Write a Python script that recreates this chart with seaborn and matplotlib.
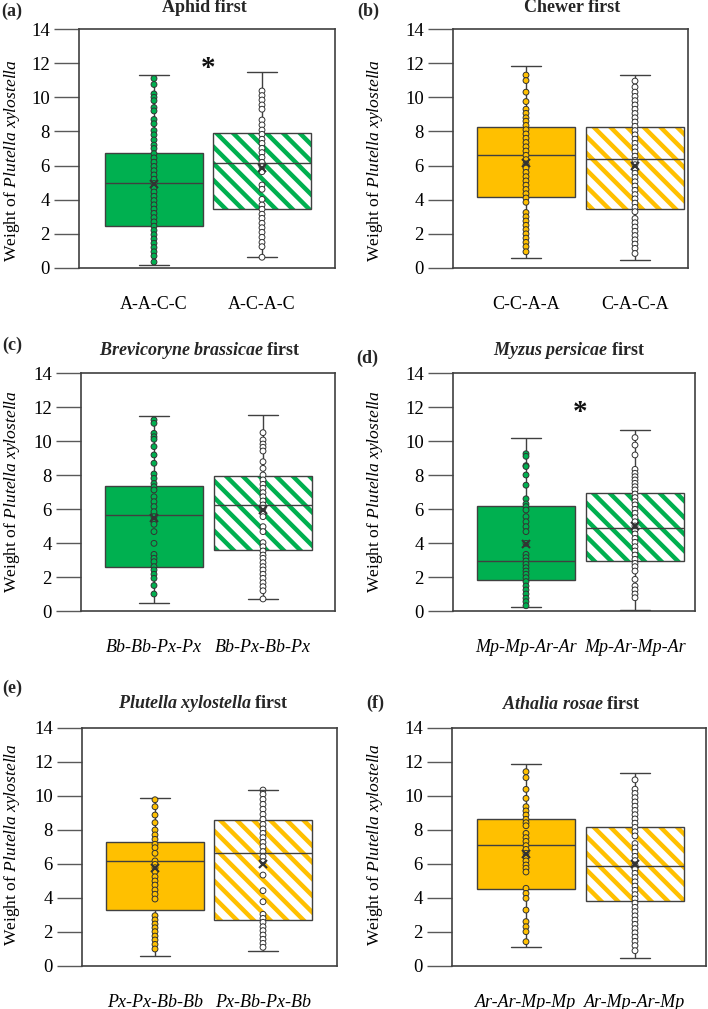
import numpy as np
import pandas as pd
import matplotlib
matplotlib.use("Agg")
import matplotlib.pyplot as plt
import seaborn as sns
from matplotlib.patches import PathPatch

sns.set_theme(style="white")
plt.rcParams["font.family"] = ["Liberation Serif", "DejaVu Serif"]
plt.rcParams["mathtext.fontset"] = "custom"
plt.rcParams["mathtext.rm"] = "Liberation Serif"
plt.rcParams["mathtext.it"] = "Liberation Serif:italic"
plt.rcParams["mathtext.bf"] = "Liberation Serif:bold"
plt.rcParams["mathtext.bfit"] = "Liberation Serif:italic:bold"
plt.rcParams["hatch.linewidth"] = 3.2

GREEN = "#00B050"
GOLD = "#FFC000"

# ---------------- data ----------------
panel_letters = ["(a)", "(b)", "(c)", "(d)", "(e)", "(f)"]
panel_titles = [
    "Aphid first",
    "Chewer first",
    r"$\mathbfit{Brevicoryne\ brassicae}$ first",
    r"$\mathbfit{Myzus\ persicae}$ first",
    r"$\mathbfit{Plutella\ xylostella}$ first",
    r"$\mathbfit{Athalia\ rosae}$ first",
]
categories = [
    ["A-A-C-C", "A-C-A-C"],
    ["C-C-A-A", "C-A-C-A"],
    ["Bb-Bb-Px-Px", "Bb-Px-Bb-Px"],
    ["Mp-Mp-Ar-Ar", "Mp-Ar-Mp-Ar"],
    ["Px-Px-Bb-Bb", "Px-Bb-Px-Bb"],
    ["Ar-Ar-Mp-Mp", "Ar-Mp-Ar-Mp"],
]
italic_ticks = [False, False, True, True, True, True]
significant = [True, False, False, True, False, False]

# five-number summaries [min, Q1, median, Q3, max]
stats_a1 = [0.16, 2.44, 4.98, 6.76, 11.33]
stats_a2 = [0.63, 3.48, 6.13, 7.89, 11.48]
stats_b1 = [0.60, 4.16, 6.60, 8.24, 11.82]
stats_b2 = [0.47, 3.48, 6.41, 8.24, 11.31]
stats_c1 = [0.49, 2.60, 5.62, 7.38, 11.45]
stats_c2 = [0.69, 3.56, 6.25, 7.97, 11.55]
stats_d1 = [0.25, 1.82, 2.96, 6.17, 10.18]
stats_d2 = [0.06, 2.96, 4.86, 6.95, 10.67]
stats_e1 = [0.61, 3.31, 6.18, 7.29, 9.86]
stats_e2 = [0.90, 2.73, 6.67, 8.57, 10.37]
stats_f1 = [1.12, 4.51, 7.14, 8.63, 11.88]
stats_f2 = [0.47, 3.84, 5.90, 8.18, 11.37]

means_a = [4.92, 5.86]
means_b = [6.15, 5.96]
means_c = [5.50, 5.93]
means_d = [3.97, 5.00]
means_e = [5.78, 6.02]
means_f = [6.60, 6.02]

pts_a1 = [11.1, 10.75, 10.2, 10.0, 9.8, 9.4, 9.2, 8.7, 8.45, 8.05, 7.8, 7.5, 7.2, 7.0, 6.7,
          6.45, 6.2, 5.95, 5.7, 5.45, 5.2, 4.95, 4.7, 4.45, 4.2, 3.95, 3.7, 3.45, 3.2, 2.95,
          2.7, 2.45, 2.2, 1.95, 1.7, 1.45, 1.2, 0.95, 0.7, 0.35]
pts_a2 = [10.37, 10.1, 9.84, 9.55, 9.3, 8.67, 8.38, 8.08, 7.83, 7.54, 7.3, 7.01, 6.76, 6.48,
          6.19, 5.94, 5.64, 4.86, 4.61, 4.02, 3.69, 3.44, 3.15, 2.91, 2.62, 2.36, 2.09, 1.8,
          1.5, 1.25, 0.63]
pts_b1 = [11.3, 10.98, 10.3, 9.75, 9.3, 9.06, 8.8, 8.6, 8.35, 8.1, 7.85, 7.6, 7.35, 7.1, 6.85,
          6.6, 6.35, 6.1, 5.85, 5.6, 5.35, 5.1, 4.85, 4.6, 4.35, 4.1, 3.85, 3.25, 3.0, 2.75,
          2.5, 2.25, 2.0, 1.75, 1.5, 1.25, 0.95]
pts_b2 = [10.95, 10.6, 10.3, 10.05, 9.8, 9.55, 9.3, 9.05, 8.8, 8.55, 8.3, 8.05, 7.8, 7.55,
          7.3, 7.05, 6.8, 6.55, 6.3, 6.05, 5.8, 5.55, 5.3, 5.05, 4.8, 4.55, 4.3, 4.05, 3.8,
          3.55, 3.3, 2.9, 2.65, 2.4, 2.15, 1.9, 1.65, 1.4, 1.15, 0.85]
pts_c1 = [11.24, 11.04, 10.45, 10.25, 10.1, 9.67, 9.18, 8.69, 8.06, 7.8, 7.5, 7.31, 7.12,
          6.72, 6.43, 6.14, 5.84, 5.55, 5.35, 5.1, 4.67, 3.98, 3.33, 3.1, 2.9, 2.61, 2.41,
          2.16, 1.92, 1.5, 1.0]
pts_c2 = [10.49, 10.06, 9.82, 9.63, 9.41, 8.78, 8.39, 8.0, 7.71, 7.45, 7.22, 6.96, 6.72,
          6.47, 6.24, 6.04, 5.78, 5.55, 4.96, 4.67, 4.02, 3.78, 3.53, 3.29, 3.1, 2.84, 2.61,
          2.41, 2.16, 1.92, 1.66, 1.43, 1.19, 0.71]
pts_d1 = [9.25, 9.1, 8.55, 8.5, 8.0, 7.4, 6.6, 6.3, 6.14, 5.94, 5.55, 5.25, 4.96, 4.67, 3.98,
          3.33, 3.14, 2.94, 2.75, 2.55, 2.35, 2.16, 1.96, 1.73, 1.47, 1.24, 1.0, 0.75, 0.55, 0.31]
pts_d2 = [10.2, 9.76, 9.18, 8.33, 8.1, 7.9, 7.71, 7.51, 7.31, 7.12, 6.88, 6.67, 6.43, 6.24,
          5.98, 5.75, 5.49, 5.25, 5.0, 4.76, 4.53, 4.27, 4.04, 3.78, 3.53, 3.29, 3.04, 2.8,
          2.61, 2.35, 1.86, 1.47, 1.24, 1.0, 0.78]
pts_e1 = [9.78, 9.37, 8.88, 8.43, 8.0, 7.71, 7.45, 7.16, 6.96, 6.63, 6.18, 5.98, 5.78, 5.55,
          5.25, 5.0, 4.76, 4.47, 4.22, 3.94, 2.96, 2.71, 2.47, 2.25, 2.02, 1.76, 1.53, 1.27, 1.0]
pts_e2 = [10.35, 10.1, 9.8, 9.51, 9.22, 8.92, 8.63, 8.33, 8.06, 7.8, 7.55, 7.27, 7.02, 6.73,
          6.43, 6.14, 5.35, 4.43, 3.78, 3.04, 2.8, 2.57, 2.31, 2.08, 1.82, 1.57, 1.33, 1.1]
pts_f1 = [11.43, 11.08, 10.39, 9.86, 9.37, 9.12, 8.88, 8.63, 8.43, 8.25, 7.8, 7.55, 7.33,
          7.08, 6.86, 6.63, 6.43, 6.18, 5.94, 5.75, 5.53, 4.57, 4.27, 3.98, 3.29, 2.61, 2.31,
          2.02, 1.43]
pts_f2 = [10.95, 10.4, 10.15, 9.9, 9.65, 9.4, 9.15, 8.9, 8.65, 8.4, 8.15, 7.9, 7.65, 7.2,
          6.95, 6.7, 6.45, 6.2, 5.95, 5.7, 5.45, 5.2, 4.95, 4.7, 4.45, 4.2, 3.95, 3.7, 3.45,
          3.2, 2.95, 2.7, 2.45, 2.2, 1.95, 1.7, 1.45, 1.2, 0.9]

panel_colors = [GREEN, GOLD, GREEN, GREEN, GOLD, GOLD]
stats1 = [stats_a1, stats_b1, stats_c1, stats_d1, stats_e1, stats_f1]
stats2 = [stats_a2, stats_b2, stats_c2, stats_d2, stats_e2, stats_f2]
means = [means_a, means_b, means_c, means_d, means_e, means_f]
pts1 = [pts_a1, pts_b1, pts_c1, pts_d1, pts_e1, pts_f1]
pts2 = [pts_a2, pts_b2, pts_c2, pts_d2, pts_e2, pts_f2]

# ---------------- layout (pixels) ----------------
W, H = 708, 1009
axes_px = [(79, 29, 335, 268), (453, 29, 688, 268), (81, 373, 335, 611),
           (453, 373, 695, 611), (82, 728, 337, 966), (452, 728, 706, 966)]
centres_px = [(154, 262), (526, 635), (154, 263), (526, 635), (155, 263), (526, 635)]
letter_px = [(1, 16), (357, 16), (2, 350), (356, 363), (2, 693), (366, 708)]   # baselines
title_px = [(204, 12), (572, 12), (200, 355), (569, 355), (203, 708), (571, 709)]  # baselines
ylabel_px = [(22, 161), (385, 161), (22, 492), (385, 492), (22, 845), (385, 845)]

fig = plt.figure(figsize=(W / 100, H / 100), dpi=100)
EDGE = "#404040"

for i in range(6):
    l, t, r, b = axes_px[i]
    ax = fig.add_axes([l / W, 1 - b / H, (r - l) / W, (b - t) / H])
    cats = categories[i]
    col = panel_colors[i]
    pal = {cats[0]: col, cats[1]: "white"}

    df_box = pd.DataFrame({"group": [cats[0]] * 5 + [cats[1]] * 5,
                           "value": stats1[i] + stats2[i]})
    sns.boxplot(data=df_box, x="group", y="value", order=cats, hue="group",
                hue_order=cats, palette=pal, legend=False, whis=(0, 100),
                width=0.9, linecolor=EDGE, linewidth=1.0, showfliers=False,
                saturation=1, capwidths=0.27, ax=ax)

    # hatch the second box
    for p in list(ax.patches):
        ext = p.get_path().get_extents()
        if (ext.x0 + ext.x1) / 2 > 0.5:
            hp = PathPatch(p.get_path(), transform=p.get_transform(),
                           facecolor="white", edgecolor=col, hatch="\\\\",
                           linewidth=0, zorder=p.get_zorder() - 0.05)
            ax.add_patch(hp)
            p.set_facecolor("none")

    df_pts = pd.DataFrame({"group": [cats[0]] * len(pts1[i]) + [cats[1]] * len(pts2[i]),
                           "value": pts1[i] + pts2[i]})
    n_before = len(ax.collections)
    sns.stripplot(data=df_pts, x="group", y="value", order=cats, hue="group",
                  hue_order=cats, palette=pal, jitter=False, size=4.2,
                  linewidth=0.7, edgecolor="#333333", legend=False, ax=ax)
    for c in ax.collections[n_before:]:
        c.set_zorder(4)

    df_mean = pd.DataFrame({"group": cats, "value": means[i]})
    sns.pointplot(data=df_mean, x="group", y="value", order=cats, color="#333333",
                  marker="x", linestyle="none", markersize=6, markeredgewidth=1.5,
                  errorbar=None, ax=ax)
    for ln in ax.lines[-3:]:
        ln.set_zorder(5)

    if significant[i]:
        ax.text(0.5, 11.25, "*", ha="center", va="baseline", fontsize=21,
                fontweight="bold", color="#111111")

    c0, c1 = centres_px[i]
    s = c1 - c0
    ax.set_xlim((l - c0) / s, 1 + (r - c1) / s)
    ax.set_ylim(0, 14)
    ax.set_yticks(np.arange(0, 15, 2))
    ax.set_xlabel("")
    ax.set_ylabel(r"Weight of $\mathit{Plutella\ xylostella}$", fontsize=12.6, color="black")
    lx, ly = ylabel_px[i]
    ax.yaxis.set_label_coords(-(l - lx) / (r - l), (b - ly) / (b - t))
    ax.tick_params(axis="y", left=True, direction="out", length=18, width=1.0,
                   color="#595959", pad=3, labelsize=13.5, labelcolor="black")
    ax.tick_params(axis="x", bottom=False, length=0, pad=20, labelsize=13,
                   labelcolor="black")
    if italic_ticks[i]:
        for tl in ax.get_xticklabels():
            tl.set_fontstyle("italic")
    for sp in ax.spines.values():
        sp.set_visible(True)
        sp.set_color(EDGE)
        sp.set_linewidth(1.2)

    lxp, lyp = letter_px[i]
    fig.text(lxp / W, 1 - lyp / H, panel_letters[i], ha="left", va="baseline",
             fontsize=13, fontweight="bold")
    txp, typ = title_px[i]
    fig.text(txp / W, 1 - typ / H, panel_titles[i], ha="center", va="baseline",
             fontsize=13, fontweight="bold")

fig.savefig("out.png", dpi=100)
